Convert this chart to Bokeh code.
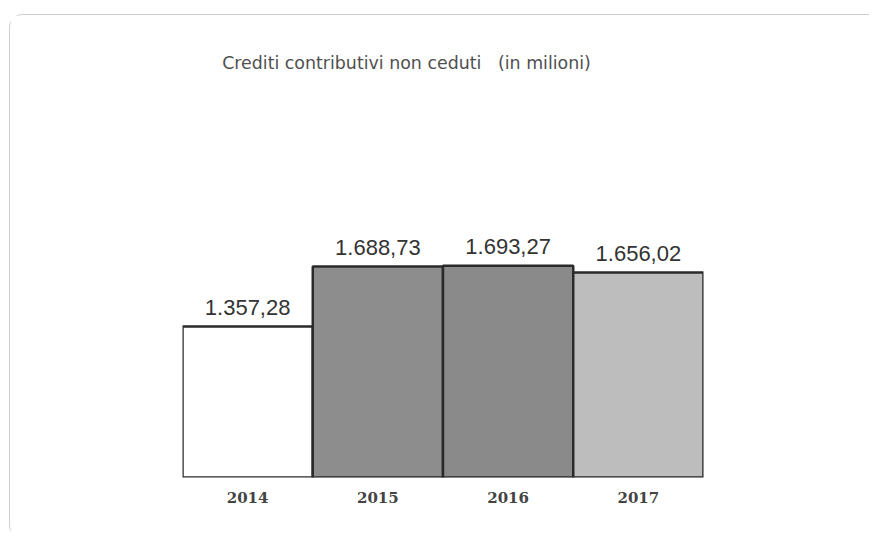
from bokeh.plotting import figure
from bokeh.models import ColumnDataSource, FactorRange, Range1d, Label
from bokeh.core.properties import value
from bokeh.embed import file_html
from bokeh.resources import INLINE

# ---- data ----
years = ["2014", "2015", "2016", "2017"]
crediti = [1357.28, 1688.73, 1693.27, 1656.02]
etichette = ["1.357,28", "1.688,73", "1.693,27", "1.656,02"]
titolo = "Crediti contributivi non ceduti \u00a0 (in milioni)"

# ---- styles ----
fills = ["#ffffff", "#8d8d8d", "#8a8a8a", "#bdbdbd"]
y_start = 523
y_end = 2965

src = ColumnDataSource(dict(year=years, val=crediti, lab=etichette, fill=fills))

p = figure(
    width=860, height=525,
    x_range=FactorRange(factors=years, range_padding=0),
    y_range=Range1d(y_start, y_end),
    output_backend="svg", toolbar_location=None,
    min_border_left=172, min_border_right=167,
    min_border_top=20, min_border_bottom=63,
    styles={
        "margin-left": "9px",
        "margin-top": "14px",
        "border-top": "1px solid #cfcfcf",
        "border-left": "1px solid #cfcfcf",
        "border-radius": "14px 0 0 14px",
    },
)
p.outline_line_color = None
p.background_fill_color = "white"
p.border_fill_color = "white"
p.grid.visible = False
p.yaxis.visible = False

p.vbar(x="year", top="val", bottom=y_start, width=1.0, source=src,
       fill_color="fill", line_color="#2a2a2a", line_width=2.5)

p.text(x="year", y="val", text="lab", source=src,
       text_font=value("Liberation Sans"), text_font_size="22px",
       text_color="#333333", text_align="center",
       text_baseline="alphabetic", y_offset=-19)

xa = p.xaxis[0]
xa.axis_line_color = None
xa.major_tick_line_color = None
xa.minor_tick_line_color = None
xa.major_label_standoff = 8
xa.major_label_text_font = "DejaVu Serif"
xa.major_label_text_font_style = "bold"
xa.major_label_text_font_size = "15px"
xa.major_label_text_color = "#444444"

p.add_layout(Label(x=224, y=415, x_units="screen", y_units="screen",
                   text=titolo, text_align="center", text_baseline="alphabetic",
                   text_font="DejaVu Sans", text_font_size="17.4px",
                   text_color="#505050"))

open("out.html", "w").write(file_html(p, INLINE))
